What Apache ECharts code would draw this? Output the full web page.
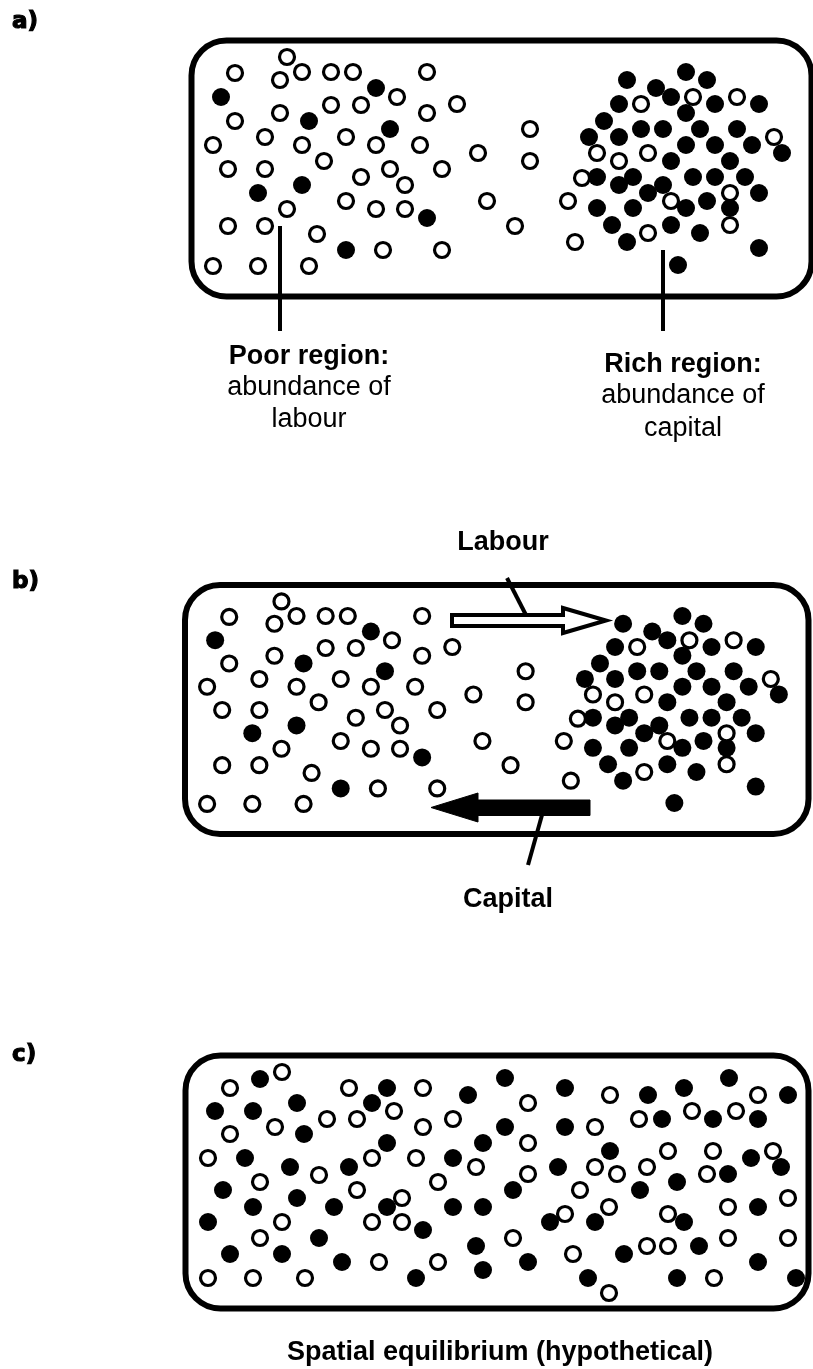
<!DOCTYPE html>
<html>
<head>
<meta charset="utf-8">
<script src="https://cdn.jsdelivr.net/npm/echarts@6/dist/echarts.min.js"></script>
<style>
  html, body { margin: 0; padding: 0; background: #fff; }
  #chart { width: 813px; height: 1369px; }
</style>
</head>
<body>
<div id="chart"></div>
<script>
// dot positions inside each box, in box pixel units (x right, y down)
// panels a) and b) show the same population of dots
const labourDots = [
  [95,17],[43,33],[88,40],[110,32],[139,32],[161,32],[235,32],[205,57],[139,65],[169,65],
  [265,64],[88,73],[235,73],[43,81],[73,97],[154,97],[21,105],[110,105],[184,105],[228,105],
  [286,113],[132,121],[36,129],[73,129],[198,129],[250,129],[169,137],[213,145],[154,161],[295,161],
  [95,169],[184,169],[213,169],[36,186],[73,186],[125,194],[191,210],[250,210],[21,226],[66,226],
  [117,226],
  [338,89],[338,121],[323,186],[376,161],[383,202],[390,138],[501,57],[545,57],[449,64],[582,97],
  [405,113],[456,113],[427,121],[538,153],[479,161],[456,193],[538,185]
]
const capitalDots = [
  [29,57],[184,48],[117,81],[198,89],[110,145],[66,153],[235,178],[154,210],
  [435,40],[494,32],[515,40],[464,48],[479,57],[427,64],[523,64],[567,64],[494,73],[412,81],
  [449,89],[471,89],[508,89],[545,89],[397,97],[427,97],[494,105],[523,105],[560,105],[590,113],
  [479,121],[538,121],[405,137],[441,137],[427,145],[471,145],[501,137],[523,137],[553,137],[456,153],
  [567,153],[405,168],[441,168],[494,168],[515,161],[538,168],[420,185],[479,185],[508,193],[435,202],
  [567,208],[486,225]
]
// panel c) spatial equilibrium
const eqLabourDots = [
  [44,33],[96,17],[163,33],[237,33],[208,56],[89,72],[141,64],[171,64],[267,64],[44,79],
  [237,72],[22,103],[186,103],[230,103],[290,112],[133,120],[74,127],[171,135],[252,127],[216,143],
  [96,167],[186,167],[216,167],[74,183],[193,207],[252,207],[22,223],[67,223],[119,223],
  [424,40],[572,40],[342,48],[409,72],[453,64],[506,56],[550,56],[342,88],[482,96],[527,96],
  [587,96],[342,119],[409,112],[431,119],[461,112],[521,119],[394,135],[423,152],[542,152],[602,143],
  [379,159],[482,159],[327,183],[542,183],[602,183],[387,199],[461,191],[482,191],[528,223],[423,238]
]
const eqCapitalDots = [
  [74,24],[201,33],[282,40],[29,56],[67,56],[111,48],[186,48],[118,79],[201,88],[297,88],
  [59,103],[104,112],[163,112],[267,103],[37,135],[111,143],[67,152],[148,152],[201,152],[267,152],
  [297,152],[22,167],[237,175],[133,183],[290,191],[44,199],[96,199],[156,207],[297,215],[230,223],
  [319,23],[379,33],[462,40],[498,33],[543,23],[602,40],[319,72],[379,72],[476,64],[527,64],
  [572,64],[424,96],[565,103],[595,112],[372,112],[542,119],[327,135],[454,135],[491,127],[572,152],
  [364,167],[409,167],[498,167],[438,199],[513,191],[342,207],[572,207],[402,223],[491,223],[610,223]
]

const chart = echarts.init(document.getElementById('chart'))

const openStyle = { color: '#fff', borderColor: '#000', borderWidth: 3.2, opacity: 1 }
const fillStyle = { color: '#000', opacity: 1 }
const font = '"Liberation Sans", Arial, sans-serif'

function box(x, y, w, h) {
    return {
        type: 'rect',
        shape: { x: x, y: y, width: w, height: h, r: 35 },
        style: { fill: 'none', stroke: '#000', lineWidth: 6 },
        z: 1
    }
}
function label(text, x, y, bold) {
    return {
        type: 'text', x: x, y: y,
        style: {
            text: text, fill: '#000', align: 'center', verticalAlign: 'middle',
            font: (bold ? 'bold ' : '') + '27px ' + font
        }
    }
}
function panelTag(text, y) {
    return {
        type: 'text', x: 12, y: y,
        style: {
            text: text, fill: '#000', verticalAlign: 'middle',
            font: 'bold 23px "DejaVu Sans", sans-serif',
            stroke: '#000', lineWidth: 1.2
        }
    }
}
function line(x1, y1, x2, y2) {
    return {
        type: 'line',
        shape: { x1: x1, y1: y1, x2: x2, y2: y2 },
        style: { stroke: '#000', lineWidth: 4 }
    }
}

chart.setOption({
    backgroundColor: '#fff',
    animation: false,
    grid: [
        { left: 192, top: 40, width: 620, height: 257 },
        { left: 186, top: 585, width: 623, height: 249 },
        { left: 186, top: 1055, width: 623, height: 253 }
    ],
    xAxis: [
        { gridIndex: 0, type: 'value', min: 0, max: 620, show: false },
        { gridIndex: 1, type: 'value', min: 0, max: 620, show: false },
        { gridIndex: 2, type: 'value', min: 0, max: 623, show: false }
    ],
    yAxis: [
        { gridIndex: 0, type: 'value', min: 0, max: 257, inverse: true, show: false },
        { gridIndex: 1, type: 'value', min: 0, max: 257, inverse: true, show: false },
        { gridIndex: 2, type: 'value', min: 0, max: 253, inverse: true, show: false }
    ],
    series: [
        { type: 'scatter', xAxisIndex: 0, yAxisIndex: 0, data: capitalDots, symbol: 'circle', symbolSize: 18, itemStyle: fillStyle, silent: true },
        { type: 'scatter', xAxisIndex: 0, yAxisIndex: 0, data: labourDots, symbol: 'circle', symbolSize: 15, itemStyle: openStyle, silent: true },
        { type: 'scatter', xAxisIndex: 1, yAxisIndex: 1, data: capitalDots, symbol: 'circle', symbolSize: 18, itemStyle: fillStyle, silent: true },
        { type: 'scatter', xAxisIndex: 1, yAxisIndex: 1, data: labourDots, symbol: 'circle', symbolSize: 15, itemStyle: openStyle, silent: true },
        { type: 'scatter', xAxisIndex: 2, yAxisIndex: 2, data: eqCapitalDots, symbol: 'circle', symbolSize: 18, itemStyle: fillStyle, silent: true },
        { type: 'scatter', xAxisIndex: 2, yAxisIndex: 2, data: eqLabourDots, symbol: 'circle', symbolSize: 15, itemStyle: openStyle, silent: true }
    ],
    graphic: [
        box(191.5, 40.5, 620, 256),
        box(185, 585, 623.5, 249),
        box(185.5, 1055.5, 623, 253),
        panelTag('a)', 22),
        panelTag('b)', 582),
        panelTag('c)', 1055),
        // panel a pointers and labels
        line(280, 226, 280, 331),
        line(663, 250, 663, 331),
        label('Poor region:', 309, 357, true),
        label('abundance of', 309, 388, false),
        label('labour', 309, 420, false),
        label('Rich region:', 683, 365, true),
        label('abundance of', 683, 396, false),
        label('capital', 683, 429, false),
        // panel b arrows
        {
            type: 'polygon',
            shape: { points: [[452, 615], [563, 615], [563, 608], [606, 620.5], [563, 633], [563, 626], [452, 626]] },
            style: { fill: '#fff', stroke: '#000', lineWidth: 4, lineJoin: 'miter' },
            z: 5
        },
        line(507, 578, 527, 617),
        label('Labour', 503, 543, true),
        {
            type: 'polygon',
            shape: { points: [[590, 800], [478, 800], [478, 793], [431, 807.5], [478, 822], [478, 815.5], [590, 815.5]] },
            style: { fill: '#000', stroke: '#000', lineWidth: 1 },
            z: 5
        },
        line(542, 815, 528, 865),
        label('Capital', 508, 900, true),
        // panel c caption
        label('Spatial equilibrium (hypothetical)', 500, 1353, true)
    ]
})
</script>
</body>
</html>
